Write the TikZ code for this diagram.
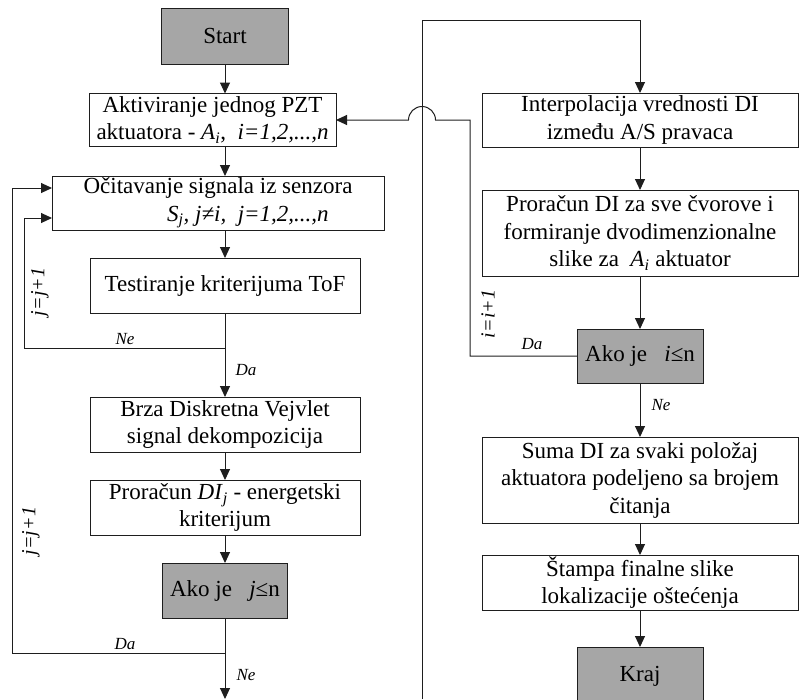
\documentclass[tikz,border=0pt]{standalone}
\usepackage{fontspec}
\setmainfont{Liberation Serif}
\usetikzlibrary{arrows.meta}
\definecolor{termgray}{RGB}{166,166,166}
\definecolor{inkline}{RGB}{30,30,30}
\begin{document}
\begin{tikzpicture}[x=1pt,y=-1pt,
  box/.style={draw=inkline, line width=1pt, fill=white, align=center,
    inner sep=0pt, outer sep=0pt, font=\fontsize{23}{27.5}\selectfont},
  term/.style={box, fill=termgray},
  link/.style={draw=inkline, line width=1pt},
  arr/.style={link, -{Triangle[length=11pt,width=10pt]}},
  lbl/.style={font=\fontsize{17}{20}\selectfont\itshape},
  ctr/.style={font=\fontsize{20}{24}\selectfont\itshape, rotate=90}
]
\useasboundingbox (0,0) rectangle (799,699);

% left column
\node[term, minimum width=127pt, minimum height=56pt] (start) at (225,36) {Start};
\node[box, minimum width=247pt, minimum height=53pt] (act) at (212.5,120)
  {Aktiviranje jednog PZT\\aktuatora - \textit{A}\textsubscript{\textit{i}},\ \ \textit{i=1,2,...,n}};
\node[box, minimum width=332pt, minimum height=54pt] (oc) at (218,203)
  {Očitavanje signala iz senzora\\\hspace*{2.6em}\textit{S}\textsubscript{\textit{j}}\textit{, j≠i,\ \ j=1,2,...,n}};
\node[box, minimum width=270pt, minimum height=55pt] (test) at (225,285.5)
  {Testiranje kriterijuma ToF};
\node[box, minimum width=270pt, minimum height=55pt] (brza) at (225,424.5)
  {Brza Diskretna Vejvlet\\signal dekompozicija};
\node[box, minimum width=270pt, minimum height=55pt] (pror) at (225,507.5)
  {Proračun \textit{DI}\textsubscript{\textit{j}} - energetski\\kriterijum};
\node[term, minimum width=125pt, minimum height=55pt] (akoj) at (225,590.5)
  {Ako je\ \ \ \textit{j}≤n};

% right column
\node[box, minimum width=316pt, minimum height=54pt] (interp) at (640,120)
  {Interpolacija vrednosti DI\\između A/S pravaca};
\node[box, minimum width=316pt, minimum height=86pt] (prdi) at (640,233)
  {Proračun DI za sve čvorove i\\formiranje dvodimenzionalne\\slike za\ \ \textit{A}\textsubscript{\textit{i}} aktuator};
\node[term, minimum width=126pt, minimum height=54pt] (akoi) at (640,356)
  {Ako je\ \ \ \textit{i}≤n};
\node[box, minimum width=316pt, minimum height=86pt] (suma) at (640,480)
  {Suma DI za svaki položaj\\aktuatora podeljeno sa brojem\\čitanja};
\node[box, minimum width=316pt, minimum height=55pt] (stampa) at (640,582.5)
  {Štampa finalne slike\\lokalizacije oštećenja};
\node[term, minimum width=126pt, minimum height=58pt] (kraj) at (640,676) {Kraj};

% rails and junctions
\coordinate (cl) at (225,0);
\coordinate (railA) at (24,0);
\coordinate (railB) at (12,0);
\coordinate (railD) at (470,0);
\coordinate (ne1) at (225,348);
\coordinate (da2) at (225,653);
\coordinate (bot) at (225,699);
\coordinate (botR) at (422,699);
\coordinate (topR) at (422,20);
\coordinate (jumpR) at (435.5,120);
\coordinate (oc1) at ([yshift=15pt]oc.west);
\coordinate (oc2) at ([yshift=-15pt]oc.west);

% left flow
\draw[arr] (start) -- (start |- act.north);
\draw[arr] (act.south -| cl) -- (oc.north -| cl);
\draw[arr] (oc.south -| cl) -- (test.north -| cl);
\draw[link] (test) -- (ne1);
\draw[arr] (ne1) -- (brza);
\draw[arr] (ne1) -| (railA |- oc2) -- (oc2);
\draw[arr] (brza) -- (pror);
\draw[arr] (pror) -- (akoj);
\draw[arr] (akoj) -- (bot);
\draw[arr] (da2) -| (railB |- oc1) -- (oc1);

% right flow
\draw[arr] (botR) -- (topR) -| (interp.north);
\draw[arr] (interp) -- (prdi);
\draw[arr] (prdi) -- (akoi);
\draw[arr] (akoi) -- (suma);
\draw[arr] (suma) -- (stampa);
\draw[arr] (stampa) -- (kraj);
\draw[arr] (akoi.west) -| (railD |- act.east) -- (jumpR)
  arc[start angle=0, end angle=180, radius=13.5pt] -- (act.east);

% labels
\node[lbl] (lne1) at (125,339) {Ne};
\node[lbl] (lda1) at (246,370) {Da};
\node[ctr] (lj1) at (40,292) {j=j+1};
\node[lbl] (lda2) at (125,644) {Da};
\node[lbl] (lne2) at (246,675) {Ne};
\node[ctr] (lj2) at (31,531) {j=j+1};
\node[ctr] (li1) at (488,314) {i=i+1};
\node[lbl] (lda3) at (532,344) {Da};
\node[lbl] (lne3) at (661,405) {Ne};
\end{tikzpicture}
\end{document}
